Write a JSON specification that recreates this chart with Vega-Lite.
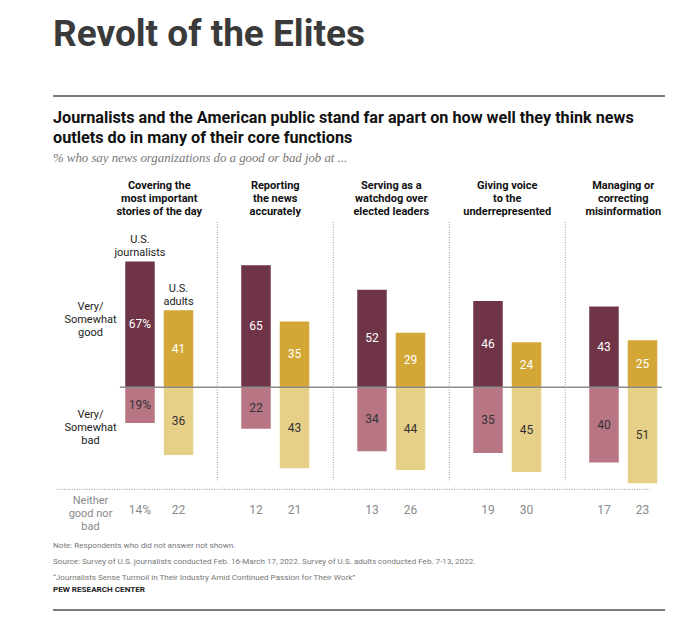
{
  "$schema": "https://vega.github.io/schema/vega-lite/v6.json",
  "padding": {"left": 53, "top": 16, "right": 10, "bottom": 4},
  "background": "white",
  "config": {"font": "Roboto", "view": {"stroke": null}, "concat": {"spacing": 9}},
  "title": {"text": "Revolt of the Elites", "fontSize": 37, "fontWeight": "bold", "color": "#3a3a3a", "font": "Roboto", "anchor": "start", "offset": 36},
  "datasets": {
    "survey": [
      {"function": "Covering the|most important|stories of the day", "group": "U.S. journalists", "rating": "good", "pct": 67},
      {"function": "Covering the|most important|stories of the day", "group": "U.S. journalists", "rating": "bad", "pct": 19},
      {"function": "Covering the|most important|stories of the day", "group": "U.S. journalists", "rating": "neither", "pct": 14},
      {"function": "Covering the|most important|stories of the day", "group": "U.S. adults", "rating": "good", "pct": 41},
      {"function": "Covering the|most important|stories of the day", "group": "U.S. adults", "rating": "bad", "pct": 36},
      {"function": "Covering the|most important|stories of the day", "group": "U.S. adults", "rating": "neither", "pct": 22},
      {"function": "Reporting|the news|accurately", "group": "U.S. journalists", "rating": "good", "pct": 65},
      {"function": "Reporting|the news|accurately", "group": "U.S. journalists", "rating": "bad", "pct": 22},
      {"function": "Reporting|the news|accurately", "group": "U.S. journalists", "rating": "neither", "pct": 12},
      {"function": "Reporting|the news|accurately", "group": "U.S. adults", "rating": "good", "pct": 35},
      {"function": "Reporting|the news|accurately", "group": "U.S. adults", "rating": "bad", "pct": 43},
      {"function": "Reporting|the news|accurately", "group": "U.S. adults", "rating": "neither", "pct": 21},
      {"function": "Serving as a|watchdog over|elected leaders", "group": "U.S. journalists", "rating": "good", "pct": 52},
      {"function": "Serving as a|watchdog over|elected leaders", "group": "U.S. journalists", "rating": "bad", "pct": 34},
      {"function": "Serving as a|watchdog over|elected leaders", "group": "U.S. journalists", "rating": "neither", "pct": 13},
      {"function": "Serving as a|watchdog over|elected leaders", "group": "U.S. adults", "rating": "good", "pct": 29},
      {"function": "Serving as a|watchdog over|elected leaders", "group": "U.S. adults", "rating": "bad", "pct": 44},
      {"function": "Serving as a|watchdog over|elected leaders", "group": "U.S. adults", "rating": "neither", "pct": 26},
      {"function": "Giving voice|to the|underrepresented", "group": "U.S. journalists", "rating": "good", "pct": 46},
      {"function": "Giving voice|to the|underrepresented", "group": "U.S. journalists", "rating": "bad", "pct": 35},
      {"function": "Giving voice|to the|underrepresented", "group": "U.S. journalists", "rating": "neither", "pct": 19},
      {"function": "Giving voice|to the|underrepresented", "group": "U.S. adults", "rating": "good", "pct": 24},
      {"function": "Giving voice|to the|underrepresented", "group": "U.S. adults", "rating": "bad", "pct": 45},
      {"function": "Giving voice|to the|underrepresented", "group": "U.S. adults", "rating": "neither", "pct": 30},
      {"function": "Managing or|correcting|misinformation", "group": "U.S. journalists", "rating": "good", "pct": 43},
      {"function": "Managing or|correcting|misinformation", "group": "U.S. journalists", "rating": "bad", "pct": 40},
      {"function": "Managing or|correcting|misinformation", "group": "U.S. journalists", "rating": "neither", "pct": 17},
      {"function": "Managing or|correcting|misinformation", "group": "U.S. adults", "rating": "good", "pct": 25},
      {"function": "Managing or|correcting|misinformation", "group": "U.S. adults", "rating": "bad", "pct": 51},
      {"function": "Managing or|correcting|misinformation", "group": "U.S. adults", "rating": "neither", "pct": 23}
    ]
  },
  "vconcat": [
    {
      "width": 612, "height": 2,
      "view": {"fill": "#7a7a7a", "stroke": null},
      "data": {"values": [{"t": ""}]},
      "mark": "text",
      "encoding": {"text": {"field": "t"}}
    },
    {
      "width": 612, "height": 301,
      "title": {
        "text": ["Journalists and the American public stand far apart on how well they think news", "outlets do in many of their core functions"],
        "fontSize": 16.2, "fontWeight": "bold", "color": "#111", "lineHeight": 20, "font": "Roboto",
        "subtitle": "% who say news organizations do a good or bad job at ...",
        "subtitleFont": "Liberation Serif", "subtitleFontStyle": "italic", "subtitleFontSize": 12.8, "subtitleColor": "#777",
        "subtitlePadding": 6, "offset": 14, "anchor": "start"
      },
      "data": {"name": "survey"},
      "transform": [
        {"calculate": "datum.rating == 'bad' ? -datum.pct : datum.pct", "as": "signed"},
        {"calculate": "datum.signed / 2", "as": "mid"},
        {"calculate": "datum.group + ' ' + datum.rating", "as": "key"},
        {"calculate": "datum.pct + ((datum.group == 'U.S. journalists' && indexof(datum.function, 'Covering') == 0) ? '%' : '')", "as": "label"}
      ],
      "layer": [
        {
          "transform": [{"filter": "datum.rating != 'neither'"}],
          "mark": {"type": "bar"},
          "encoding": {
            "x": {"field": "function", "type": "nominal", "sort": null, "title": null,
              "scale": {"domain": ["Covering the|most important|stories of the day", "Reporting|the news|accurately", "Serving as a|watchdog over|elected leaders", "Giving voice|to the|underrepresented", "Managing or|correcting|misinformation"], "range": [48.25, 628.25], "paddingInner": 0, "paddingOuter": 0},
              "axis": {"orient": "top", "labelExpr": "split(datum.label, '|')", "labelFontWeight": "bold", "labelFontSize": 11, "labelColor": "#111", "labelLineHeight": 13, "labelPadding": 32, "ticks": false, "domain": false, "labelAngle": 0, "title": null, "labelLimit": 200, "labelFont": "Roboto"}},
            "xOffset": {"field": "group", "type": "nominal", "title": null,
              "scale": {"domain": ["U.S. journalists", "U.S. adults"], "paddingInner": 0.234, "paddingOuter": 0.623}},
            "y": {"field": "signed", "type": "quantitative", "title": null,
              "scale": {"domain": [-72.2, 88], "nice": false, "zero": false},
              "axis": {"orient": "left", "values": [43.1, -14.4, -60.1], "labelExpr": "datum.value > 0 ? ['Very/', 'Somewhat', 'good'] : datum.value > -40 ? ['Very/', 'Somewhat', 'bad'] : ['Neither', 'good nor', 'bad']", "offset": -37, "labelAlign": "center", "labelBaseline": "middle", "labelPadding": 0, "ticks": false, "tickSize": 0, "domain": false, "grid": false, "labelFontSize": 11, "labelLineHeight": 13, "labelColor": {"condition": {"test": "datum.value < -40", "value": "#8a8a8a"}, "value": "#222"}, "labelOverlap": false, "labelFlush": false, "title": null, "labelFont": "Roboto"}},
            "color": {"field": "key", "type": "nominal", "legend": null,
              "scale": {"domain": ["U.S. journalists good", "U.S. adults good", "U.S. journalists bad", "U.S. adults bad"], "range": ["#6f3446", "#d2a735", "#b87685", "#e6cf87"]}}
          }
        },
        {
          "transform": [{"filter": "datum.rating != 'neither'"}],
          "mark": {"type": "text", "fontSize": 12, "baseline": "middle"},
          "encoding": {
            "x": {"field": "function", "type": "nominal", "sort": null, "title": null},
            "xOffset": {"field": "group", "type": "nominal", "title": null},
            "y": {"field": "mid", "type": "quantitative", "title": null},
            "text": {"field": "label"},
            "color": {"condition": {"test": "datum.rating == 'good'", "value": "#ffffff"}, "value": "#333333"}
          }
        },
        {
          "transform": [{"filter": "datum.rating == 'neither'"}],
          "mark": {"type": "text", "fontSize": 12, "baseline": "middle", "color": "#8a8a8a"},
          "encoding": {
            "x": {"field": "function", "type": "nominal", "sort": null, "title": null},
            "xOffset": {"field": "group", "type": "nominal", "title": null},
            "y": {"datum": -65.5, "type": "quantitative", "title": null},
            "text": {"field": "label"}
          }
        },
        {
          "transform": [{"filter": "datum.rating == 'good' && indexof(datum.function, 'Covering') == 0"}],
          "mark": {"type": "text", "fontSize": 11, "baseline": "bottom", "dy": -16, "lineBreak": " ", "lineHeight": 13, "color": "#222"},
          "encoding": {
            "x": {"field": "function", "type": "nominal", "sort": null, "title": null},
            "xOffset": {"field": "group", "type": "nominal", "title": null},
            "y": {"field": "signed", "type": "quantitative", "title": null},
            "text": {"field": "group"}
          }
        },
        {
          "transform": [{"filter": "datum.rating == 'good' && datum.group == 'U.S. journalists' && indexof(datum.function, 'Covering') != 0"}],
          "mark": {"type": "rule", "color": "#9a9a9a", "strokeDash": [1, 1.5], "strokeWidth": 1},
          "encoding": {
            "x": {"field": "function", "type": "nominal", "sort": null, "title": null, "bandPosition": 0},
            "y": {"datum": 88, "type": "quantitative", "title": null},
            "y2": {"datum": -49.5}
          }
        },
        {
          "data": {"values": [{"line": "zero"}]},
          "mark": {"type": "rule", "color": "#8c8c8c", "strokeWidth": 1.5},
          "encoding": {
            "x": {"datum": "Covering the|most important|stories of the day", "type": "nominal", "bandPosition": 0.16, "title": null},
            "x2": {"datum": "Managing or|correcting|misinformation", "bandPosition": 0.834},
            "y": {"datum": 0, "type": "quantitative", "title": null}
          }
        },
        {
          "data": {"values": [{"line": "neither"}]},
          "mark": {"type": "rule", "color": "#9a9a9a", "strokeDash": [1, 1.5], "strokeWidth": 1},
          "encoding": {
            "x": {"datum": "Covering the|most important|stories of the day", "type": "nominal", "bandPosition": -0.384, "title": null},
            "x2": {"datum": "Managing or|correcting|misinformation", "bandPosition": 0.73},
            "y": {"datum": -54.3, "type": "quantitative", "title": null}
          }
        }
      ]
    },
    {
      "width": 612, "height": 2,
      "view": {"fill": "#7a7a7a", "stroke": null},
      "title": {
        "text": ["Note: Respondents who did not answer not shown.", "Source: Survey of U.S. journalists conducted Feb. 16-March 17, 2022. Survey of U.S. adults conducted Feb. 7-13, 2022.", "“Journalists Sense Turmoil in Their Industry Amid Continued Passion for Their Work”"],
        "fontSize": 8.1, "fontWeight": "normal", "color": "#777", "lineHeight": 16, "font": "Roboto",
        "subtitle": "PEW RESEARCH CENTER", "subtitleFont": "Roboto", "subtitleFontWeight": "bold", "subtitleFontSize": 8.1, "subtitleColor": "#222",
        "subtitlePadding": 4, "offset": 10, "anchor": "start"
      },
      "data": {"values": [{"t": ""}]},
      "mark": "text",
      "encoding": {"text": {"field": "t"}}
    }
  ]
}
